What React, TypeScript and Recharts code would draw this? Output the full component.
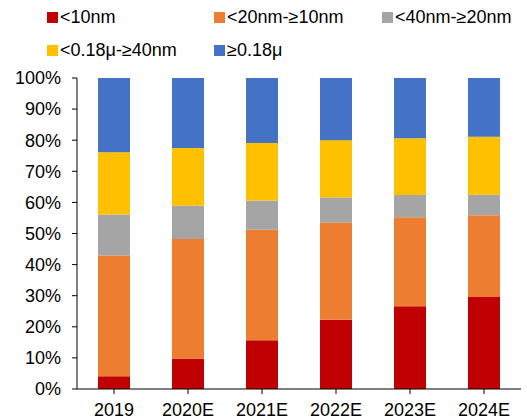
import { BarChart, Bar, XAxis, YAxis } from "recharts";

const years = ["2019", "2020E", "2021E", "2022E", "2023E", "2024E"];

// share of each node bucket, in percent
const below10 = [4.1, 9.8, 15.7, 22.3, 26.6, 29.6];
const from10to20 = [38.8, 38.4, 35.5, 31.2, 28.6, 26.3];
const from20to40 = [13.2, 10.7, 9.4, 8.1, 7.2, 6.6];
const from40to180 = [20.0, 18.6, 18.5, 18.4, 18.2, 18.6];
const above180 = [23.9, 22.5, 20.9, 20.0, 19.4, 18.9];

const yTicks = [0, 10, 20, 30, 40, 50, 60, 70, 80, 90, 100];

const series = [
  { key: "a", name: "<10nm", color: "#C00000", values: below10 },
  { key: "b", name: "<20nm-≥10nm", color: "#ED7D31", values: from10to20 },
  { key: "c", name: "<40nm-≥20nm", color: "#A5A5A5", values: from20to40 },
  { key: "d", name: "<0.18μ-≥40nm", color: "#FFC000", values: from40to180 },
  { key: "e", name: "≥0.18μ", color: "#4472C4", values: above180 },
];

const data = years.map((year, i) => {
  const row: Record<string, string | number> = { year };
  series.forEach((s) => {
    row[s.key] = s.values[i];
  });
  return row;
});

const FONT = "'Liberation Sans', Arial, sans-serif";

// legend slots: two rows, three columns
const legendPos = [
  { left: 47, top: 17 },
  { left: 214, top: 17 },
  { left: 382, top: 17 },
  { left: 47, top: 50 },
  { left: 214, top: 50 },
];

function LegendBox() {
  return (
    <div style={{ position: "absolute", left: 0, top: 0, width: 527, height: 70 }}>
      {series.map((s, i) => (
        <div
          key={s.key}
          style={{
            position: "absolute",
            left: legendPos[i].left,
            top: legendPos[i].top - 11,
            height: 22,
            display: "flex",
            alignItems: "center",
            fontFamily: FONT,
            fontSize: 18,
            color: "#000",
            whiteSpace: "nowrap",
          }}
        >
          <span
            style={{
              display: "inline-block",
              width: 11,
              height: 11,
              background: s.color,
              marginRight: 2,
            }}
          />
          {s.name}
        </div>
      ))}
    </div>
  );
}

export default function App() {
  return (
    <div
      style={{
        position: "absolute",
        left: 0,
        top: 0,
        width: 527,
        height: 419,
        background: "#fff",
      }}
    >
      <BarChart
        width={527}
        height={419}
        data={data}
        margin={{ top: 78, right: 6, bottom: 0, left: 0 }}
        barCategoryGap={0}
      >
        <XAxis
          dataKey="year"
          height={30}
          axisLine={{ stroke: "#000" }}
          tickLine={{ stroke: "#000" }}
          tickSize={5}
          tickMargin={9}
          interval={0}
          tick={{ fill: "#000", fontSize: 18, fontFamily: FONT }}
        />
        <YAxis
          width={77}
          domain={[0, 100]}
          ticks={yTicks}
          interval={0}
          tickFormatter={(v: number) => `${v}%`}
          axisLine={{ stroke: "#000" }}
          tickLine={{ stroke: "#000" }}
          tickSize={5}
          tickMargin={11}
          tick={{ fill: "#000", fontSize: 18, fontFamily: FONT }}
        />
        {series.map((s) => (
          <Bar
            key={s.key}
            dataKey={s.key}
            name={s.name}
            stackId="share"
            fill={s.color}
            barSize={32}
            isAnimationActive={false}
          />
        ))}
      </BarChart>
      <LegendBox />
    </div>
  );
}
